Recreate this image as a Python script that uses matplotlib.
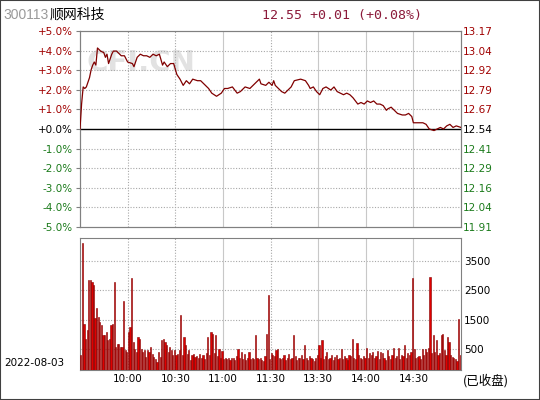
import matplotlib
matplotlib.use('Agg')
import matplotlib.pyplot as plt
from matplotlib.patches import Rectangle

plt.rcParams['font.family'] = ['DejaVu Sans', 'Noto Sans CJK SC']

# 1. data
code = '300113'
name = '顺网科技'
trade_date = '2022-08-03'
pre_close = 12.54
last_price = 12.55
change = 0.01
change_pct = 0.08

# minute since 9:30 (0..240, lunch break removed) and price
line_min = [0, 1, 2, 3, 4, 6, 7, 8, 9, 10, 11, 13, 15, 16, 17, 18, 20, 21, 23, 24,
            26, 28, 30, 33, 34, 36, 38, 40, 42, 44, 46, 48, 50, 52, 53, 55, 57, 59, 61, 63,
            65, 67, 69, 71, 74, 76, 79, 81, 83, 86, 89, 91, 93, 96, 99, 101, 104, 107, 110, 113,
            114, 117, 119, 121, 122, 123, 125, 127, 129, 131, 133, 135, 139, 142, 144, 145, 147, 149, 151, 153,
            155, 158, 160, 162, 164, 166, 168, 170, 172, 175, 177, 179, 181, 183, 185, 187, 189, 191, 193, 194,
            196, 198, 200, 203, 205, 207, 209, 210, 216, 218, 220, 223, 225, 227, 229, 231, 233, 235, 237, 240]
line_price = [12.54, 12.70, 12.81, 12.80, 12.81, 12.87, 12.92, 12.95, 12.97, 12.95, 13.06, 13.04, 13.03, 13.00, 13.02, 12.96, 13.02, 13.04, 13.04, 13.03,
              13.01, 13.01, 12.97, 12.96, 12.94, 13.00, 13.02, 13.01, 13.01, 13.00, 13.02, 13.01, 13.02, 12.95, 12.97, 12.94, 12.96, 12.96, 12.89, 12.86,
              12.82, 12.85, 12.83, 12.86, 12.85, 12.85, 12.82, 12.80, 12.77, 12.75, 12.77, 12.80, 12.80, 12.81, 12.77, 12.78, 12.81, 12.80, 12.83, 12.86,
              12.83, 12.82, 12.84, 12.82, 12.85, 12.82, 12.80, 12.78, 12.77, 12.79, 12.81, 12.85, 12.86, 12.85, 12.82, 12.80, 12.81, 12.78, 12.76, 12.80,
              12.81, 12.79, 12.81, 12.78, 12.77, 12.76, 12.77, 12.76, 12.74, 12.70, 12.71, 12.70, 12.72, 12.71, 12.72, 12.70, 12.70, 12.69, 12.66, 12.67,
              12.68, 12.66, 12.64, 12.63, 12.63, 12.64, 12.62, 12.58, 12.58, 12.57, 12.54, 12.53, 12.54, 12.55, 12.54, 12.56, 12.57, 12.55, 12.56, 12.55]

# volume per minute (240 bars)
vol = [300, 4100, 1360, 850, 1130, 2850, 2850, 2790, 2680, 1540,
       1880, 1590, 1420, 1300, 960, 960, 1080, 790, 850, 1300,
       1360, 2790, 560, 680, 680, 560, 560, 2130, 450, 400,
       1080, 1250, 2910, 730, 510, 400, 900, 850, 510, 400,
       450, 220, 450, 400, 560, 340, 220, 170, 50, 400,
       220, 790, 850, 730, 620, 400, 560, 450, 280, 450,
       280, 340, 450, 1650, 300, 900, 620, 340, 450, 110,
       280, 340, 220, 260, 180, 320, 200, 280, 150, 350,
       900, 300, 1070, 1010, 350, 960, 250, 500, 200, 440,
       150, 200, 160, 180, 120, 200, 180, 130, 250, 500,
       200, 380, 150, 330, 120, 200, 380, 140, 200, 160,
       960, 180, 150, 200, 120, 100, 250, 1010, 2330, 150,
       350, 280, 250, 450, 500, 200, 150, 180, 280, 120,
       200, 340, 150, 200, 990, 250, 120, 200, 180, 300,
       160, 620, 180, 120, 250, 200, 150, 100, 200, 280,
       640, 200, 790, 150, 250, 380, 150, 200, 280, 120,
       220, 300, 150, 200, 480, 150, 250, 200, 120, 300,
       250, 840, 200, 150, 700, 280, 200, 150, 250, 200,
       530, 180, 350, 300, 380, 200, 250, 440, 150, 400,
       350, 200, 120, 470, 250, 150, 300, 520, 200, 250,
       520, 150, 300, 250, 630, 200, 350, 300, 400, 2910,
       500, 180, 220, 250, 170, 500, 300, 500, 400, 540,
       2960, 350, 960, 400, 790, 300, 350, 960, 1020, 450,
       300, 900, 740, 300, 220, 200, 150, 100, 1510, 300]

pct_ticks = [5, 4, 3, 2, 1, 0, -1, -2, -3, -4, -5]
time_pos = [30, 60, 90, 120, 150, 180, 210]
time_labels = ['10:00', '10:30', '11:00', '11:30', '13:30', '14:00', '14:30']
vol_ticks = [500, 1500, 2500, 3500]

# 2. colors
up_c = '#a00000'
dn_c = '#1a7a1a'
grid_c = '#a8a8a8'
frame_c = '#808080'

fig = plt.figure(figsize=(5.4, 4), dpi=100)
fig.patches.append(Rectangle((0, 0), 1, 1, transform=fig.transFigure,
                             fill=False, ec='#404040', lw=1.5))

# 3. price panel
ax = fig.add_axes([80/540, 1-226.7/400, 381/540, 195.4/400])
ax.set_xlim(0, 240)
ax.set_ylim(-5, 5)
ax.set_yticks(pct_ticks)
ax.set_yticklabels(['%+.1f%%' % t for t in pct_ticks], fontsize=7.5)
for lab, t in zip(ax.get_yticklabels(), pct_ticks):
    lab.set_color(up_c if t > 0 else (dn_c if t < 0 else 'black'))
ax.set_xticks(time_pos)
ax.tick_params(axis='x', length=0, labelbottom=False)
ax.tick_params(axis='y', length=3, color=frame_c, pad=2)
for t in pct_ticks:
    if t not in (5, -5, 0):
        ax.axhline(t, color=grid_c, lw=0.8, ls=(0, (1, 1.5)), zorder=1)
for i, p in enumerate(time_pos):
    ls = (0, (1, 1.5)) if i in (0, 1, 3) else '-'
    ax.axvline(p, color='#c8c8c8' if ls == '-' else grid_c, lw=0.8, ls=ls, zorder=1)
ax.axhline(0, color='black', lw=1, zorder=2)
for s in ax.spines.values():
    s.set_color(frame_c)
ax.text(0.16, 0.84, 'CFI.CN', transform=ax.transAxes, fontsize=21,
        fontweight='bold', color='#e2e2e2', ha='center', va='center', zorder=0)

axp = ax.twinx()
axp.set_ylim(pre_close*0.95, pre_close*1.05)
price_ticks = [pre_close*(1+t/100) for t in pct_ticks]
axp.set_yticks(price_ticks)
axp.set_yticklabels(['%.2f' % p for p in price_ticks], fontsize=7.5)
for lab, t in zip(axp.get_yticklabels(), pct_ticks):
    lab.set_color(up_c if t > 0 else (dn_c if t < 0 else 'black'))
axp.tick_params(axis='y', length=0, pad=1)
for s in axp.spines.values():
    s.set_color(frame_c)
axp.plot(line_min, line_price, color='#800000', lw=0.9, zorder=3)

# 4. volume panel
av = fig.add_axes([80/540, 1-370/400, 381/540, 132/400])
vmin, vmax = -220, 4280
av.set_xlim(0, 240)
av.set_ylim(vmin, vmax)
xs = [i + 0.5 for i in range(len(vol))]
av.bar(xs, [v - vmin for v in vol], bottom=vmin, width=0.75,
       color='#e00000', edgecolor='#800000', linewidth=0.4, zorder=3)
av.yaxis.tick_right()
av.set_yticks(vol_ticks)
av.set_yticklabels([str(v) for v in vol_ticks], fontsize=7.5)
av.tick_params(axis='y', length=0, pad=2)
for v in vol_ticks:
    av.axhline(v, color=grid_c, lw=0.8, ls=(0, (1, 1.5)), zorder=1)
for i, p in enumerate(time_pos):
    ls = (0, (1, 1.5)) if i in (0, 1, 3) else '-'
    av.axvline(p, color='#c8c8c8' if ls == '-' else grid_c, lw=0.8, ls=ls, zorder=1)
av.set_xticks(time_pos)
av.set_xticklabels(time_labels, fontsize=7.5)
av.tick_params(axis='x', length=0, pad=3)
for s in av.spines.values():
    s.set_color(frame_c)

# 5. texts
fig.text(3/540, 1-15/400, code, fontsize=10, color='#9a9a9a', va='center',
         family='Liberation Sans')
fig.text(50/540, 1-15/400, name, fontsize=10, color='black', va='center',
         family=['Noto Sans CJK SC', 'DejaVu Sans'])
fig.text(262/540, 1-15/400,
         '%.2f %+.2f (%+.2f%%)' % (last_price, change, change_pct),
         fontsize=9.5, color='#8b1a3a', va='center', family='DejaVu Sans Mono')
fig.text(4/540, 1-363/400, trade_date, fontsize=7.5, color='black', va='center')
fig.text(463/540, 1-381/400, '(已收盘)', fontsize=9, color='black', va='center',
         family=['Noto Sans CJK SC', 'DejaVu Sans'])

plt.savefig('out.png', dpi=100)
